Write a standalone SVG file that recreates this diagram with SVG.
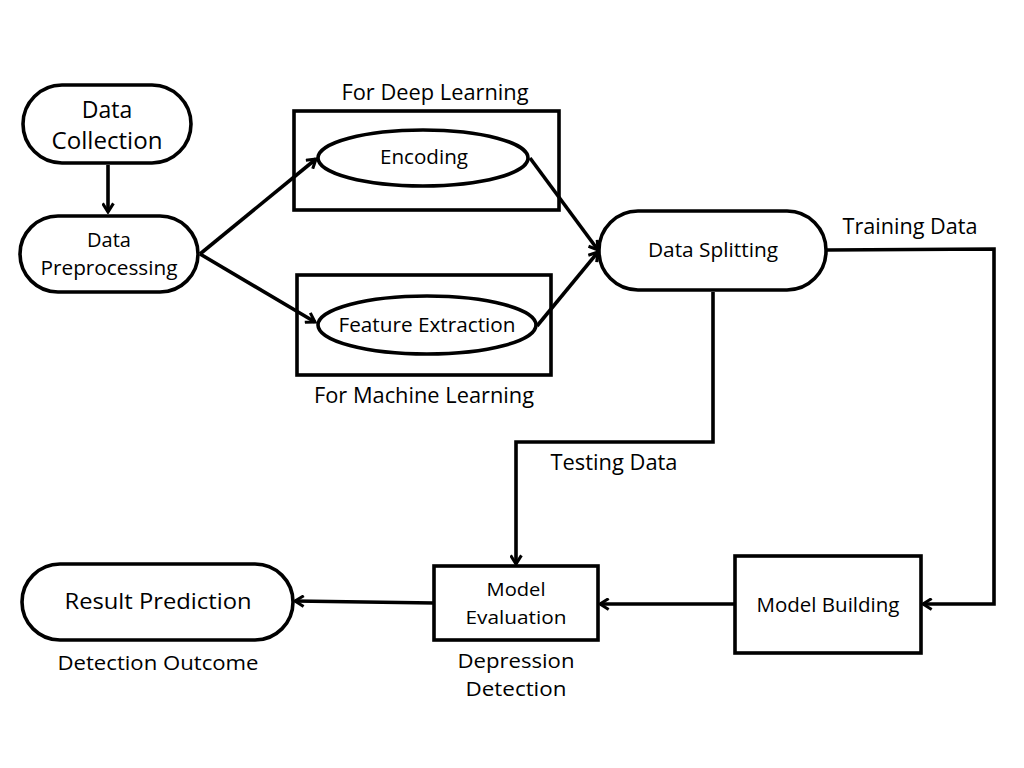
<svg xmlns="http://www.w3.org/2000/svg" width="1024" height="768" viewBox="0 0 1024 768">
<style>
.n{fill:#fff;stroke:#000;stroke-width:3.6}
.t{font-family:"Open Sans","Liberation Sans",sans-serif;fill:#000;text-anchor:middle}
.e{fill:none;stroke:#000;stroke-width:3.6;marker-end:url(#ah)}
</style>
<defs>
<marker id="ah" viewBox="0 0 12 12" refX="10" refY="6" markerWidth="13" markerHeight="13" markerUnits="userSpaceOnUse" orient="auto">
<path d="M2,1 L10,6 L2,11" fill="none" stroke="#000" stroke-width="2.8"/>
</marker>
</defs>
<rect width="1024" height="768" fill="#fff"/>
<g id="connectors">
<path class="e" d="M108,165 L108,212"/>
<path class="e" d="M200,254 L316,159"/>
<path class="e" d="M200,254 L315,322"/>
<path class="e" d="M530,158 L598,250"/>
<path class="e" d="M537,326 L598,252"/>
<path class="e" d="M827,250 L994,249 L994,604 L923,604"/>
<path class="e" d="M713,292 L713,442 L516,442 L516,564"/>
<path class="e" d="M735,604 L600,604"/>
<path class="e" d="M434,603 L295,601"/>
</g>
<g id="data-collection">
<rect class="n" x="23" y="85" width="168" height="78" rx="39"/>
<text class="t" x="107" y="118" font-size="23">Data</text>
<text class="t" x="107" y="149" font-size="23" textLength="111" lengthAdjust="spacingAndGlyphs">Collection</text>
</g>
<g id="data-preprocessing">
<rect class="n" x="20" y="216" width="178" height="76" rx="38"/>
<text class="t" x="109" y="247" font-size="20">Data</text>
<text class="t" x="109" y="275" font-size="20" textLength="137" lengthAdjust="spacingAndGlyphs">Preprocessing</text>
</g>
<g id="deep-learning">
<rect x="294" y="111" width="265" height="99" fill="none" stroke="#000" stroke-width="3.6"/>
<text class="t" x="435" y="100" font-size="21" textLength="187" lengthAdjust="spacingAndGlyphs">For Deep Learning</text>
</g>
<g id="encoding">
<ellipse class="n" cx="423" cy="158" rx="105" ry="28"/>
<text class="t" x="424" y="164" font-size="20" textLength="88" lengthAdjust="spacingAndGlyphs">Encoding</text>
</g>
<g id="machine-learning">
<rect x="297" y="275" width="254" height="100" fill="none" stroke="#000" stroke-width="3.6"/>
<text class="t" x="424" y="403" font-size="21" textLength="220" lengthAdjust="spacingAndGlyphs">For Machine Learning</text>
</g>
<g id="feature-extraction">
<ellipse class="n" cx="427" cy="325" rx="109" ry="29"/>
<text class="t" x="427" y="332" font-size="20" textLength="177" lengthAdjust="spacingAndGlyphs">Feature Extraction</text>
</g>
<g id="data-splitting">
<rect class="n" x="599" y="211" width="227" height="79" rx="39"/>
<text class="t" x="713" y="257" font-size="20" textLength="130" lengthAdjust="spacingAndGlyphs">Data Splitting</text>
</g>
<text class="t" x="910" y="234" font-size="21" textLength="135" lengthAdjust="spacingAndGlyphs">Training Data</text>
<text class="t" x="614" y="470" font-size="21" textLength="127" lengthAdjust="spacingAndGlyphs">Testing Data</text>
<g id="model-building">
<rect class="n" x="735" y="556" width="186" height="97"/>
<text class="t" x="828" y="612" font-size="20" textLength="143" lengthAdjust="spacingAndGlyphs">Model Building</text>
</g>
<g id="model-evaluation">
<rect class="n" x="434" y="566" width="164" height="74"/>
<text class="t" x="516" y="596" font-size="19" textLength="59" lengthAdjust="spacingAndGlyphs">Model</text>
<text class="t" x="516" y="624" font-size="19" textLength="101" lengthAdjust="spacingAndGlyphs">Evaluation</text>
</g>
<text class="t" x="516" y="668" font-size="20" textLength="117" lengthAdjust="spacingAndGlyphs">Depression</text>
<text class="t" x="516" y="696" font-size="20" textLength="101" lengthAdjust="spacingAndGlyphs">Detection</text>
<g id="result-prediction">
<rect class="n" x="22" y="564" width="271" height="76" rx="38"/>
<text class="t" x="158" y="609" font-size="22" textLength="187" lengthAdjust="spacingAndGlyphs">Result Prediction</text>
</g>
<text class="t" x="158" y="670" font-size="20" textLength="201" lengthAdjust="spacingAndGlyphs">Detection Outcome</text>
</svg>
